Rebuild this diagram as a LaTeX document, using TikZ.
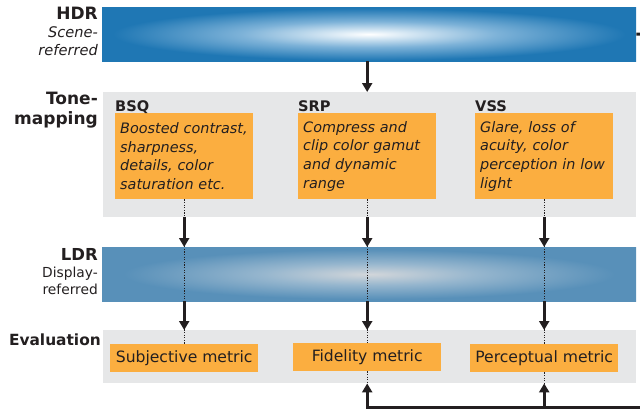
\documentclass[tikz,border=0pt]{standalone}
\usepackage{fontspec}
\setmainfont{DejaVu Sans}
\usepackage{xcolor}
\usepackage{tikz}
\usetikzlibrary{positioning, shapes, arrows.meta, calc}
\definecolor{hdrblue}{RGB}{31, 119, 180}
\definecolor{hdrmid}{RGB}{125, 178, 216}
\definecolor{hdrlight}{RGB}{222, 236, 246}
\definecolor{ldrblue}{RGB}{88, 144, 185}
\definecolor{ldrmid}{RGB}{150, 182, 206}
\definecolor{ldrlight}{RGB}{210, 214, 218}
\definecolor{panelgray}{RGB}{230, 231, 232}
\definecolor{boxorange}{RGB}{251, 174, 64}
\definecolor{inkdark}{RGB}{35, 31, 32}
\pgfdeclareradialshading{hdrglow}{\pgfpoint{0bp}{0bp}}{color(0bp)=(white); color(3bp)=(hdrlight); color(12bp)=(hdrmid); color(24bp)=(hdrblue); color(50bp)=(hdrblue)}
\pgfdeclareradialshading{ldrglow}{\pgfpoint{0bp}{0bp}}{color(0bp)=(ldrlight); color(10bp)=(ldrmid); color(23bp)=(ldrblue); color(50bp)=(ldrblue)}

\begin{document}
\begin{tikzpicture}[x=1pt, y=-1pt, >={Triangle[length=9pt, width=10pt]}]
    \tikzstyle{band} = [rectangle, minimum width=534pt, minimum height=54pt, inner sep=0pt, anchor=north west]
    \tikzstyle{panel} = [rectangle, fill=panelgray, minimum width=533pt, inner sep=0pt, anchor=north west]
    \tikzstyle{effect} = [rectangle, fill=boxorange, text=inkdark, font=\fontsize{14.4}{18.6}\selectfont\itshape, text width=128pt, minimum height=86pt, inner xsep=5pt, inner ysep=5pt, align=left, anchor=north west, execute at begin node={\hyphenpenalty=10000\relax}]
    \tikzstyle{metric} = [rectangle, fill=boxorange, text=inkdark, font=\fontsize{15.6}{18}\selectfont, minimum width=148pt, minimum height=28pt, inner sep=0pt, anchor=north west]
    \tikzstyle{method} = [font=\fontsize{14.6}{16}\selectfont\bfseries, text=inkdark, inner sep=0pt, anchor=base west]
    \tikzstyle{stage} = [font=\fontsize{14.6}{18}\selectfont, text=inkdark, align=right, inner sep=0pt, anchor=north east]
    \tikzstyle{flow} = [draw=inkdark, line width=3pt]
    \tikzstyle{guide} = [draw=inkdark, line width=0.8pt, dash pattern=on 1.2pt off 1.4pt]

    \useasboundingbox (0,0) rectangle (640,410);

    \node[band, shade, shading=hdrglow] (hdr) at (102,7) {};
    \node[panel, minimum height=125pt] (tone) at (103,92) {};
    \node[band, shade, shading=ldrglow] (ldr) at (102,247) {};
    \node[panel, minimum height=53pt] (eval) at (103,330) {};

    \node[stage] (hdrname) at (98,7) {{\fontsize{17}{18}\selectfont\bfseries HDR}\\{\itshape Scene-}\\{\itshape referred}};
    \node[stage, font=\fontsize{17}{19.5}\selectfont\bfseries] (tonename) at (98,92) {Tone-\\mapping};
    \node[stage, font=\fontsize{13.8}{17}\selectfont] (ldrname) at (98,248) {{\fontsize{16.5}{17}\selectfont\bfseries LDR}\\Display-\\referred};
    \node[stage, font=\fontsize{15.4}{18}\selectfont\bfseries] (evalname) at (101,334) {Evaluation};

    \node[effect] (bsq) at (115,113) {Boosted contrast,\\sharpness,\\details, color\\saturation etc.};
    \node[effect] (srp) at (298,113) {Compress and\\clip color gamut\\and dynamic\\range};
    \node[effect] (vss) at (475,113) {Glare, loss of\\acuity, color\\perception in low\\light};
    \node[method] (bsqname) at ([yshift=1.5pt]bsq.north west) {BSQ};
    \node[method] (srpname) at ([yshift=1.5pt]srp.north west) {SRP};
    \node[method] (vssname) at ([yshift=1.5pt]vss.north west) {VSS};

    \node[metric] (subj) at (110,344) {Subjective metric};
    \node[metric] (fid) at (293,343) {Fidelity metric};
    \node[metric] (perc) at (470,344) {Perceptual metric};

    \draw[guide] (bsq.south) -- (subj.north);
    \draw[guide] (srp.south) -- (fid.north);
    \draw[guide] (vss.south) -- (perc.north);
    \draw[guide] (fid.south) -- (eval.south -| fid);
    \draw[guide] (perc.south) -- (eval.south -| perc);

    \draw[flow, ->] (hdr.south -| srp) -- (tone.north -| srp);
    \draw[flow, ->] (tone.south -| bsq) -- (ldr.north -| bsq);
    \draw[flow, ->] (tone.south -| srp) -- (ldr.north -| srp);
    \draw[flow, ->] (tone.south -| vss) -- (ldr.north -| vss);
    \draw[flow, ->] (ldr.south -| subj) -- (eval.north -| subj);
    \draw[flow, ->] (ldr.south -| fid) -- (eval.north -| fid);
    \draw[flow, ->] (ldr.south -| perc) -- (eval.north -| perc);

    \coordinate (loopout) at (642,34);
    \coordinate (loopin) at (642,407);
    \draw[flow] (hdr.east) -- (loopout);
    \draw[flow, ->] (loopin) -| (eval.south -| fid);
    \draw[flow, ->] (loopin -| perc) -- (eval.south -| perc);
\end{tikzpicture}
\end{document}
